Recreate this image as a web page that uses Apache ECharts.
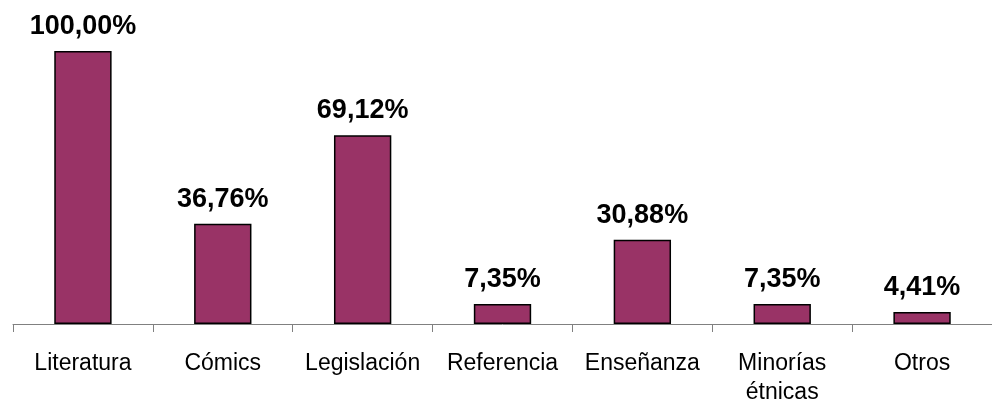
<!DOCTYPE html>
<html><head><meta charset="utf-8">
<script src="https://cdn.jsdelivr.net/npm/echarts@6/dist/echarts.min.js"></script>
<style>html,body{margin:0;padding:0;background:#fff}#c{width:992px;height:407px}</style>
</head><body><div id="c"></div>
<script>
const categories = ['Literatura', 'Cómics', 'Legislación', 'Referencia', 'Enseñanza', 'Minorías\nétnicas', 'Otros'];
const values = [100.00, 36.76, 69.12, 7.35, 30.88, 7.35, 4.41];

const chart = echarts.init(document.getElementById('c'));
chart.setOption({
  animation: false,
  grid: { left: 13, top: 51, width: 983, bottom: 82, containLabel: false },
  xAxis: {
    type: 'category', data: categories,
    axisLine: { lineStyle: { color: '#808080', width: 1 } },
    axisTick: { show: true, alignWithLabel: false, length: 8, lineStyle: { color: '#808080' } },
    axisLabel: { color: '#000', fontFamily: 'Liberation Sans, Arial, sans-serif', fontSize: 23, margin: 25, lineHeight: 29, interval: 0 }
  },
  yAxis: { type: 'value', min: 0, max: 100, show: false, splitLine: { show: false } },
  series: [{
    type: 'bar', data: values, barWidth: '41%',
    itemStyle: { color: '#993366', borderColor: '#000', borderWidth: 1.5 },
    label: {
      show: true, position: 'top', distance: 11, color: '#000',
      fontFamily: 'Liberation Sans, Arial, sans-serif', fontWeight: 'bold', fontSize: 27,
      formatter: p => p.value.toFixed(2).replace('.', ',') + '%'
    }
  }]
});
</script></body></html>
